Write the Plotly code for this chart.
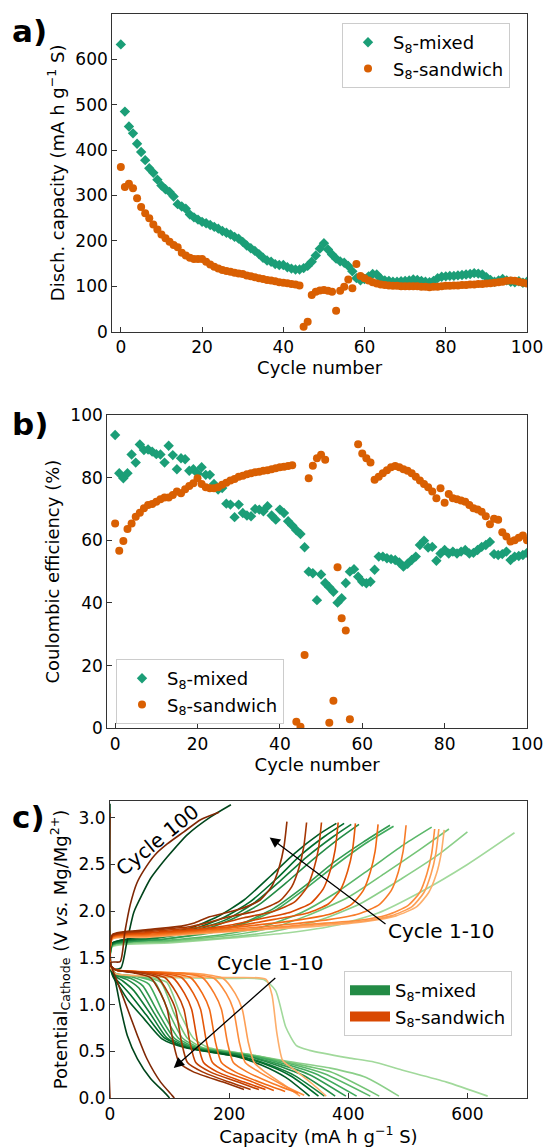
import plotly.graph_objects as go

# ---------------- data: panel a / b ----------------
cycles = list(range(0, 101))

mixed_capacity = [633, 485, 452, 437, 414, 396, 378, 360, 350, 335,
                  322, 314, 308, 298, 281, 276, 271, 258, 252, 247,
                  242, 239, 235, 231, 227, 222, 218, 214, 209, 205,
                  198, 190, 184, 178, 171, 163, 157, 154, 149, 147,
                  147, 142, 139, 137, 137, 140, 145, 154, 168, 183,
                  195, 181, 170, 161, 155, 152, 145, 133, 118, 113,
                  116, 122, 127, 126, 117, 113, 112, 110, 110, 111,
                  112, 113, 115, 114, 112, 110, 109, 112, 118, 121,
                  122, 123, 123, 124, 125, 126, 127, 129, 128, 126,
                  120, 114, 110, 113, 116, 113, 110, 109, 111, 108, 110]

sandwich_capacity = [363, 319, 326, 316, 294, 275, 261, 250, 236, 225,
                     214, 206, 198, 191, 186, 174, 168, 163, 160, 160,
                     160, 154, 148, 143, 139, 136, 134, 132, 130, 128,
                     127, 124, 122, 120, 118, 116, 114, 113, 111, 109,
                     108, 107, 105, 104, 102, 11, 22, 81, 88, 91,
                     92, 90, 88, 46, 90, 99, 115, 96, 149, 123,
                     118, 113, 109, 106, 104, 103, 102, 101, 101, 100,
                     100, 100, 100, 100, 99, 99, 98, 99, 99, 100,
                     101, 101, 102, 102, 103, 103, 104, 104, 105, 105,
                     106, 107, 108, 109, 110, 112, 113, 112, 110, 108, 106]

mixed_ce = [93.6, 81.4, 79.8, 81.4, 87.4, 84.8, 90.6, 88.8, 89.0, 88.3,
            87.5, 87.4, 84.8, 90.2, 87.2, 82.7, 86.2, 85.9, 82.2, 82.7,
            81.4, 83.3, 80.9, 80.9, 78.0, 76.2, 76.7, 71.7, 71.4, 67.4,
            71.4, 68.7, 67.9, 67.7, 70.0, 69.8, 69.3, 70.9, 67.9, 66.6,
            69.8, 68.7, 66.1, 64.7, 63.2, 62.0, 57.8, 50.0, 49.5, 40.9,
            49.1, 46.4, 45.0, 43.6, 40.1, 41.5, 46.4, 50.0, 50.8, 48.4,
            46.8, 46.3, 46.8, 50.6, 54.8, 54.8, 54.3, 54.0, 53.7, 52.9,
            51.6, 52.5, 53.7, 54.8, 58.5, 59.9, 57.7, 57.9, 53.5, 55.8,
            56.9, 55.8, 56.4, 55.8, 56.4, 56.9, 55.8, 56.0, 56.9, 57.9,
            58.5, 59.5, 55.6, 55.3, 55.6, 56.4, 53.7, 54.8, 55.0, 55.3, 56.0]

sandwich_ce = [65.4, 56.7, 59.8, 63.6, 65.4, 67.5, 68.8, 70.2, 71.3, 71.6,
               72.3, 73.1, 73.7, 73.7, 74.5, 75.6, 75.0, 76.3, 77.3, 78.2,
               79.8, 78.0, 76.9, 76.6, 76.6, 76.9, 77.7, 78.4, 79.1, 79.6,
               80.3, 80.6, 81.1, 81.4, 81.7, 81.9, 82.2, 82.4, 82.7, 83.0,
               83.3, 83.5, 83.7, 84.0, 2.1, 0.5, 23.4, 79.8, 83.8, 86.2,
               87.3, 85.7, 1.8, 8.8, 51.4, 35.1, 31.2, 2.9, None, 90.7,
               87.7, 86.2, 84.8, 79.3, 80.3, 81.4, 82.4, 83.3, 83.7, 83.3,
               82.7, 82.2, 81.4, 80.3, 79.1, 78.0, 76.9, 75.6, 73.4, 76.6,
               72.0, 74.8, 73.4, 73.1, 72.7, 72.3, 71.3, 70.2, 69.8, 69.1,
               67.7, 65.1, 66.9, 66.6, 62.6, 61.2, 59.6, 60.0, 60.8, 61.5, 60.0]

# ---------------- data: panel c (cycles 1..10 and 100) ----------------
profile_cycles = [1, 2, 3, 4, 5, 6, 7, 8, 9, 10, 100]

mixed_dis_cap = [
    [0, 8, 100, 200, 258, 278, 295, 313, 335, 400, 440, 490, 565, 634],
    [0, 10, 60, 95, 118, 140, 165, 230, 300, 370, 430, 485],
    [0, 10, 50, 85, 108, 130, 155, 230, 300, 370, 452],
    [0, 10, 45, 75, 100, 122, 150, 230, 300, 360, 437],
    [0, 10, 40, 65, 90, 115, 145, 230, 290, 345, 414],
    [0, 10, 35, 55, 82, 108, 140, 230, 285, 335, 396],
    [0, 8, 28, 48, 75, 102, 135, 230, 280, 325, 378],
    [0, 8, 22, 40, 68, 96, 130, 225, 270, 310, 360],
    [0, 6, 18, 35, 62, 92, 128, 220, 265, 305, 350],
    [0, 5, 15, 30, 57, 88, 125, 215, 255, 295, 335],
    [0, 1, 4, 9, 18, 29, 46, 68, 93, 100],
]
mixed_dis_v = [
    [1.40, 1.33, 1.29, 1.28, 1.27, 1.15, 0.76, 0.56, 0.51, 0.43, 0.39, 0.30, 0.17, 0.02],
    [1.40, 1.33, 1.30, 1.24, 0.90, 0.64, 0.54, 0.47, 0.39, 0.32, 0.22, 0.02],
    [1.40, 1.33, 1.30, 1.24, 0.90, 0.64, 0.54, 0.47, 0.38, 0.28, 0.02],
    [1.40, 1.33, 1.30, 1.24, 0.90, 0.64, 0.54, 0.46, 0.37, 0.26, 0.02],
    [1.40, 1.33, 1.29, 1.22, 0.90, 0.64, 0.54, 0.46, 0.37, 0.26, 0.02],
    [1.40, 1.32, 1.28, 1.20, 0.90, 0.64, 0.54, 0.45, 0.36, 0.25, 0.02],
    [1.40, 1.32, 1.27, 1.18, 0.90, 0.64, 0.54, 0.45, 0.35, 0.24, 0.02],
    [1.40, 1.31, 1.25, 1.15, 0.90, 0.64, 0.54, 0.44, 0.35, 0.24, 0.02],
    [1.40, 1.30, 1.22, 1.10, 0.88, 0.64, 0.54, 0.44, 0.35, 0.23, 0.02],
    [1.40, 1.30, 1.20, 1.05, 0.85, 0.63, 0.54, 0.44, 0.35, 0.22, 0.02],
    [3.15, 1.45, 1.35, 1.25, 0.96, 0.67, 0.42, 0.21, 0.05, 0.0],
]
mixed_chg_cap = [
    [0, 4, 100, 200, 300, 380, 450, 520, 600, 679],
    [0, 4, 100, 200, 280, 350, 420, 490, 550, 600],
    [0, 4, 100, 200, 270, 330, 400, 460, 520, 569],
    [0, 4, 100, 190, 260, 320, 380, 440, 495, 540],
    [0, 4, 90, 170, 230, 280, 330, 380, 430, 476],
    [0, 4, 90, 170, 225, 275, 325, 375, 425, 470],
    [0, 4, 80, 150, 200, 250, 295, 340, 385, 418],
    [0, 4, 80, 145, 195, 240, 285, 330, 375, 405],
    [0, 4, 80, 140, 190, 235, 280, 320, 360, 393],
    [0, 4, 75, 135, 180, 225, 270, 310, 350, 380],
    [0, 18, 28, 40, 54, 68, 82, 96, 130, 169, 203],
]
mixed_chg_v = [
    [1.45, 1.62, 1.66, 1.71, 1.77, 1.85, 1.98, 2.20, 2.50, 2.84],
    [1.45, 1.63, 1.67, 1.72, 1.79, 1.90, 2.08, 2.35, 2.60, 2.85],
    [1.45, 1.63, 1.68, 1.74, 1.82, 1.95, 2.15, 2.40, 2.66, 2.88],
    [1.45, 1.64, 1.69, 1.75, 1.84, 1.98, 2.20, 2.47, 2.72, 2.90],
    [1.45, 1.64, 1.70, 1.77, 1.88, 2.02, 2.25, 2.50, 2.73, 2.91],
    [1.45, 1.64, 1.70, 1.78, 1.88, 2.03, 2.26, 2.52, 2.74, 2.92],
    [1.45, 1.65, 1.71, 1.79, 1.90, 2.07, 2.30, 2.55, 2.78, 2.93],
    [1.45, 1.65, 1.72, 1.80, 1.91, 2.08, 2.32, 2.58, 2.80, 2.93],
    [1.45, 1.66, 1.73, 1.81, 1.93, 2.10, 2.35, 2.60, 2.80, 2.94],
    [1.45, 1.66, 1.74, 1.82, 1.94, 2.12, 2.38, 2.62, 2.82, 2.94],
    [1.38, 1.39, 1.66, 1.99, 2.18, 2.35, 2.47, 2.58, 2.82, 3.01, 3.14],
]

sandwich_dis_cap = [
    [0, 10, 100, 200, 262, 272, 280, 290, 310, 340, 363],
    [0, 10, 150, 190, 210, 222, 232, 242, 260, 290, 319],
    [0, 10, 135, 175, 195, 207, 217, 227, 250, 290, 326],
    [0, 10, 115, 155, 175, 187, 197, 207, 230, 275, 316],
    [0, 10, 95, 135, 155, 167, 177, 187, 210, 255, 294],
    [0, 10, 80, 120, 140, 152, 162, 172, 195, 240, 275],
    [0, 10, 70, 105, 125, 137, 147, 157, 180, 225, 261],
    [0, 10, 60, 92, 112, 124, 134, 144, 168, 215, 250],
    [0, 10, 50, 80, 98, 110, 120, 130, 155, 200, 236],
    [0, 10, 40, 68, 85, 96, 106, 116, 140, 190, 225],
    [0, 1, 5, 12, 29, 46, 62, 85, 104, 108],
]
sandwich_dis_v = [
    [1.40, 1.33, 1.30, 1.29, 1.27, 1.10, 0.70, 0.40, 0.30, 0.15, 0.02],
    [1.42, 1.37, 1.33, 1.28, 1.12, 0.95, 0.60, 0.38, 0.28, 0.15, 0.02],
    [1.42, 1.37, 1.33, 1.28, 1.12, 0.95, 0.60, 0.38, 0.28, 0.14, 0.03],
    [1.42, 1.37, 1.34, 1.29, 1.12, 0.95, 0.60, 0.38, 0.28, 0.15, 0.05],
    [1.42, 1.37, 1.34, 1.29, 1.12, 0.95, 0.60, 0.38, 0.28, 0.16, 0.07],
    [1.42, 1.37, 1.34, 1.29, 1.12, 0.95, 0.60, 0.38, 0.28, 0.17, 0.08],
    [1.42, 1.37, 1.34, 1.29, 1.12, 0.95, 0.60, 0.38, 0.28, 0.17, 0.09],
    [1.42, 1.37, 1.34, 1.29, 1.12, 0.95, 0.60, 0.38, 0.28, 0.17, 0.09],
    [1.42, 1.37, 1.34, 1.29, 1.12, 0.95, 0.60, 0.38, 0.28, 0.17, 0.09],
    [1.42, 1.37, 1.34, 1.29, 1.12, 0.95, 0.60, 0.38, 0.28, 0.17, 0.09],
    [3.05, 1.45, 1.36, 1.25, 0.96, 0.67, 0.42, 0.17, 0.03, 0.0],
]
sandwich_chg_cap = [
    [0, 4, 60, 150, 250, 350, 430, 480, 515, 535, 548, 556, 561],
    [0, 4, 60, 150, 250, 340, 420, 472, 507, 527, 539, 547, 552],
    [0, 4, 60, 150, 250, 335, 415, 465, 500, 520, 532, 540, 545],
    [0, 4, 60, 150, 250, 300, 367, 417, 452, 472, 484, 492, 497],
    [0, 4, 60, 150, 230, 320, 370, 405, 425, 437, 445, 450],
    [0, 4, 60, 150, 220, 282, 332, 367, 387, 399, 407, 412],
    [0, 4, 60, 150, 200, 253, 303, 338, 358, 370, 378, 383],
    [0, 4, 60, 140, 180, 225, 275, 310, 330, 342, 350, 355],
    [0, 4, 60, 130, 160, 200, 250, 285, 305, 317, 325, 330],
    [0, 4, 60, 120, 140, 167, 217, 252, 272, 284, 292, 297],
    [0, 1, 17, 25, 34, 45, 57, 75, 96, 124, 152, 183],
]
sandwich_chg_v = [
    [1.45, 1.70, 1.72, 1.76, 1.80, 1.84, 1.89, 1.95, 2.05, 2.20, 2.40, 2.62, 2.87],
    [1.45, 1.71, 1.73, 1.77, 1.81, 1.85, 1.89, 1.95, 2.05, 2.20, 2.40, 2.62, 2.88],
    [1.45, 1.71, 1.73, 1.77, 1.81, 1.86, 1.90, 1.96, 2.06, 2.20, 2.40, 2.62, 2.88],
    [1.46, 1.72, 1.74, 1.78, 1.83, 1.86, 1.91, 1.97, 2.07, 2.22, 2.42, 2.64, 2.92],
    [1.46, 1.72, 1.75, 1.79, 1.84, 1.91, 1.97, 2.07, 2.22, 2.42, 2.64, 2.93],
    [1.46, 1.73, 1.76, 1.80, 1.85, 1.92, 1.98, 2.08, 2.23, 2.43, 2.65, 2.94],
    [1.47, 1.73, 1.77, 1.81, 1.85, 1.92, 1.99, 2.09, 2.24, 2.44, 2.66, 2.95],
    [1.47, 1.74, 1.78, 1.82, 1.86, 1.93, 2.00, 2.10, 2.25, 2.45, 2.67, 2.95],
    [1.47, 1.74, 1.79, 1.83, 1.87, 1.94, 2.01, 2.11, 2.26, 2.46, 2.68, 2.95],
    [1.48, 1.75, 1.80, 1.84, 1.87, 1.94, 2.02, 2.12, 2.27, 2.47, 2.69, 2.96],
    [0.0, 1.45, 1.46, 1.78, 2.07, 2.30, 2.44, 2.60, 2.72, 2.85, 2.98, 3.06],
]

# ---------------- styles ----------------
C_MIX = "#1b9e77"
C_SAN = "#d95f02"
greens = ["#a1d99b", "#8bcf89", "#74c476", "#5ab769", "#41ab5d",
          "#329b51", "#238b45", "#137c39", "#006d2c", "#005a24", "#00441b"]
oranges = ["#fdae6b", "#fd9e54", "#fd8d3c", "#f77b28", "#f16913",
           "#e5590a", "#d94801", "#c04002", "#a63603", "#932f03", "#7f2704"]
FONT = "DejaVu Sans"
AX = "#333333"

fig = go.Figure()

# panel a
fig.add_trace(go.Scatter(x=cycles, y=mixed_capacity, mode="markers", name="S<sub>8</sub>-mixed",
                         marker=dict(symbol="diamond", size=8, color=C_MIX),
                         xaxis="x", yaxis="y", legend="legend"))
fig.add_trace(go.Scatter(x=cycles, y=sandwich_capacity, mode="markers", name="S<sub>8</sub>-sandwich",
                         marker=dict(symbol="circle", size=8, color=C_SAN),
                         xaxis="x", yaxis="y", legend="legend"))
# panel b
fig.add_trace(go.Scatter(x=cycles, y=mixed_ce, mode="markers", name="S<sub>8</sub>-mixed",
                         marker=dict(symbol="diamond", size=8, color=C_MIX),
                         xaxis="x2", yaxis="y2", legend="legend2"))
fig.add_trace(go.Scatter(x=cycles, y=sandwich_ce, mode="markers", name="S<sub>8</sub>-sandwich",
                         marker=dict(symbol="circle", size=8, color=C_SAN),
                         xaxis="x2", yaxis="y2", legend="legend2"))

# panel c
def add_profiles(caps, volts, colors):
    for i in range(len(caps)):
        fig.add_trace(go.Scatter(x=caps[i], y=volts[i], mode="lines",
                                 line=dict(color=colors[i], width=1.6, shape="spline", smoothing=0.6),
                                 showlegend=False, hoverinfo="skip", xaxis="x3", yaxis="y3"))

add_profiles(mixed_dis_cap, mixed_dis_v, greens)
add_profiles(mixed_chg_cap, mixed_chg_v, greens)
add_profiles(sandwich_dis_cap, sandwich_dis_v, oranges)
add_profiles(sandwich_chg_cap, sandwich_chg_v, oranges)

fig.add_trace(go.Scatter(x=[None], y=[None], mode="lines", name="S<sub>8</sub>-mixed",
                         line=dict(color="#238b45", width=14), xaxis="x3", yaxis="y3", legend="legend3"))
fig.add_trace(go.Scatter(x=[None], y=[None], mode="lines", name="S<sub>8</sub>-sandwich",
                         line=dict(color="#d94801", width=14), xaxis="x3", yaxis="y3", legend="legend3"))

W, H = 545, 1147
def px_x(p):
    return p / W
def px_y(p):
    return 1 - p / H

axis_common = dict(showline=True, linecolor=AX, linewidth=1.2, mirror=True,
                   ticks="inside", ticklen=5, tickwidth=1, tickcolor=AX,
                   showgrid=False, zeroline=False, automargin=False,
                   tickfont=dict(family=FONT, size=17, color="black"))
title_font = dict(family=FONT, size=18, color="black")
legend_common = dict(xanchor="left", yanchor="top", bgcolor="rgba(255,255,255,0.8)",
                     bordercolor="#cccccc", borderwidth=1, tracegroupgap=0,
                     itemwidth=40, font=dict(family=FONT, size=18))

fig.update_layout(
    width=W, height=H, margin=dict(l=0, r=0, t=0, b=0, autoexpand=False),
    paper_bgcolor="white", plot_bgcolor="white",
    font=dict(family=FONT, size=17, color="black"),
    xaxis=dict(domain=[px_x(112.3), px_x(527)], range=[-2.1, 100], anchor="y",
               tickvals=[0, 20, 40, 60, 80, 100],
               title=dict(text="Cycle number", font=title_font, standoff=4), **axis_common),
    yaxis=dict(domain=[px_y(331.7), px_y(14)], range=[0, 700], anchor="x",
               tickvals=[0, 100, 200, 300, 400, 500, 600],
               title=dict(text="Disch. capacity (mA h g<sup>−1</sup> S)", font=title_font, standoff=6),
               **axis_common),
    xaxis2=dict(domain=[px_x(107.3), px_x(527)], range=[-1.9, 100], anchor="y2",
                tickvals=[0, 20, 40, 60, 80, 100],
                title=dict(text="Cycle number", font=title_font, standoff=4), **axis_common),
    yaxis2=dict(domain=[px_y(728.3), px_y(415)], range=[0, 100], anchor="x2",
                tickvals=[0, 20, 40, 60, 80, 100],
                title=dict(text="Coulombic efficiency (%)", font=title_font, standoff=6),
                **axis_common),
    xaxis3=dict(domain=[px_x(110), px_x(527)], range=[0, 700], anchor="y3",
                tickvals=[0, 200, 400, 600],
                title=dict(text="Capacity (mA h g<sup>−1</sup> S)", font=title_font, standoff=4),
                **axis_common),
    yaxis3=dict(domain=[px_y(1098), px_y(801)], range=[0, 3.18], anchor="x3",
                tickvals=[0, 0.5, 1.0, 1.5, 2.0, 2.5, 3.0], tickformat=".1f",
                title=dict(text="Potential<sub>Cathode</sub> (V <i>vs.</i> Mg/Mg<sup>2+</sup>)",
                           font=title_font, standoff=6),
                **axis_common),
    legend=dict(x=px_x(342), y=px_y(23), **legend_common),
    legend2=dict(x=px_x(116), y=px_y(659), **legend_common),
    legend3=dict(x=px_x(344), y=px_y(971), **legend_common),
    showlegend=True,
)

annotations = [
    dict(text="<b>a)</b>", x=px_x(10), y=px_y(31), xref="paper", yref="paper",
         xanchor="left", yanchor="middle", showarrow=False, font=dict(family=FONT, size=31)),
    dict(text="<b>b)</b>", x=px_x(10), y=px_y(424), xref="paper", yref="paper",
         xanchor="left", yanchor="middle", showarrow=False, font=dict(family=FONT, size=31)),
    dict(text="<b>c)</b>", x=px_x(10), y=px_y(817), xref="paper", yref="paper",
         xanchor="left", yanchor="middle", showarrow=False, font=dict(family=FONT, size=31)),
    dict(text="Cycle 100", x=80, y=2.76, xref="x3", yref="y3", showarrow=False,
         textangle=-39, font=dict(family=FONT, size=20)),
    dict(text="Cycle 1-10", x=556, y=1.79, xref="x3", yref="y3", showarrow=False,
         font=dict(family=FONT, size=20)),
    dict(text="Cycle 1-10", x=268, y=1.445, xref="x3", yref="y3", showarrow=False,
         font=dict(family=FONT, size=20)),
    dict(text="", x=268, y=2.79, ax=465, ay=1.85, xref="x3", yref="y3", axref="x3", ayref="y3",
         showarrow=True, arrowhead=2, arrowsize=1.6, arrowwidth=1.3, arrowcolor="black"),
    dict(text="", x=107, y=0.32, ax=280, ay=1.30, xref="x3", yref="y3", axref="x3", ayref="y3",
         showarrow=True, arrowhead=2, arrowsize=1.6, arrowwidth=1.3, arrowcolor="black"),
]
fig.update_layout(annotations=annotations)

# remove the browser's default 8 px page margin so the figure fills the window exactly,
# and hide the hover toolbar
fig.write_html("out.html",
               config={"displayModeBar": False},
               post_script="document.body.style.margin='0px';document.body.style.overflow='hidden';")
